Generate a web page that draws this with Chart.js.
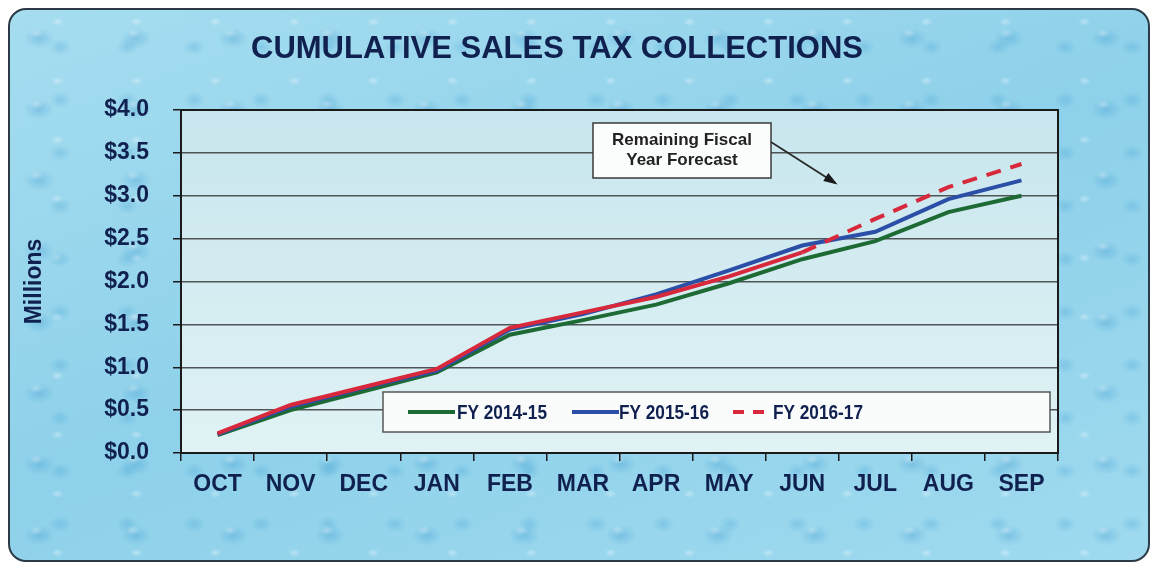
<!DOCTYPE html>
<html>
<head>
<meta charset="utf-8">
<script src="https://cdn.jsdelivr.net/npm/chart.js@4.4.1/dist/chart.umd.min.js"></script>
<style>
  html, body { margin: 0; padding: 0; background: #fff; }
  #wrap {
    position: relative;
    width: 1154px;
    height: 565px;
    overflow: hidden;
  }
  #frame {
    position: absolute;
    left: 8px; top: 8px; width: 1138px; height: 550px;
    border: 2px solid #2b3a44;
    border-radius: 18px;
    background:
      radial-gradient(ellipse 22px 15px at 30% 40%, rgba(40,140,200,0.28), transparent 70%),
      radial-gradient(ellipse 10px 7px at 27% 33%, rgba(255,255,255,0.4), transparent 70%),
      radial-gradient(ellipse 16px 12px at 75% 70%, rgba(50,150,205,0.25), transparent 70%),
      radial-gradient(ellipse 9px 6px at 60% 20%, rgba(255,255,255,0.35), transparent 70%),
      linear-gradient(160deg, #a6ddf0, #8ed1ea 50%, #9fdaef);
    background-size: 97px 71px, 97px 71px, 67px 53px, 79px 59px, 100% 100%;
  }
  canvas { position: absolute; left: 0; top: 0; }
</style>
</head>
<body>
<div id="wrap">
  <div id="frame"></div>
  <canvas id="chart" width="1154" height="565"></canvas>
</div>
<script>
const months = ['OCT', 'NOV', 'DEC', 'JAN', 'FEB', 'MAR', 'APR', 'MAY', 'JUN', 'JUL', 'AUG', 'SEP'];
const fy1415 = [0.21, 0.50, 0.72, 0.94, 1.38, 1.55, 1.73, 1.98, 2.26, 2.47, 2.81, 3.00];
const fy1516 = [0.22, 0.54, 0.76, 0.96, 1.44, 1.62, 1.85, 2.13, 2.42, 2.58, 2.96, 3.18];
const fy1617 = [0.23, 0.56, 0.77, 0.98, 1.46, 1.64, 1.82, 2.06, 2.34, 2.73, 3.10, 3.37];
const forecastStart = 8; // FY 2016-17 is a forecast from JUN on

const navy = '#10204f';
const titleText = 'CUMULATIVE SALES TAX COLLECTIONS';
const noteLines = ['Remaining Fiscal', 'Year Forecast'];

// plot background, border, title, note and legend box
const decor = {
    id: 'decor',
    beforeDraw(chart) {
        const { ctx, chartArea: a } = chart;
        ctx.save();
        const g = ctx.createLinearGradient(0, a.top, 0, a.bottom);
        g.addColorStop(0, '#c8e6ee');
        g.addColorStop(1, '#e0f2f4');
        ctx.fillStyle = g;
        ctx.fillRect(a.left, a.top, a.right - a.left, a.bottom - a.top);
        ctx.restore();
    },
    afterDatasetsDraw(chart) {
        const { ctx, chartArea: a, scales } = chart;
        ctx.save();
        // plot frame
        ctx.strokeStyle = '#1a1a1a';
        ctx.lineWidth = 2;
        ctx.strokeRect(a.left, a.top, a.right - a.left, a.bottom - a.top);

        // title
        ctx.fillStyle = navy;
        ctx.font = 'bold 31px "Liberation Sans", Arial, sans-serif';
        ctx.textAlign = 'center';
        ctx.textBaseline = 'middle';
        ctx.fillText(titleText, 557, 49);

        // forecast note
        const bx = 593, by = 123, bw = 178, bh = 55;
        ctx.fillStyle = '#fbfdfd';
        ctx.fillRect(bx, by, bw, bh);
        ctx.strokeStyle = '#3a3a3a';
        ctx.lineWidth = 1.5;
        ctx.strokeRect(bx, by, bw, bh);
        ctx.fillStyle = '#222';
        ctx.font = 'bold 17px "Liberation Sans", Arial, sans-serif';
        ctx.fillText(noteLines[0], bx + bw / 2, by + 17);
        ctx.fillText(noteLines[1], bx + bw / 2, by + 37);

        // arrow to the forecast part
        const tipX = scales.x.getPixelForValue(8) + 0.45 * (scales.x.getPixelForValue(9) - scales.x.getPixelForValue(8));
        const tipY = scales.y.getPixelForValue(3.15);
        const sx = bx + bw, sy = by + 19;
        ctx.strokeStyle = '#2a2a2a';
        ctx.lineWidth = 1.8;
        ctx.beginPath();
        ctx.moveTo(sx, sy);
        ctx.lineTo(tipX, tipY);
        ctx.stroke();
        const ang = Math.atan2(tipY - sy, tipX - sx);
        ctx.fillStyle = '#1a1a1a';
        ctx.beginPath();
        ctx.moveTo(tipX + 3 * Math.cos(ang), tipY + 3 * Math.sin(ang));
        ctx.lineTo(tipX - 12 * Math.cos(ang - 0.4), tipY - 12 * Math.sin(ang - 0.4));
        ctx.lineTo(tipX - 12 * Math.cos(ang + 0.4), tipY - 12 * Math.sin(ang + 0.4));
        ctx.closePath();
        ctx.fill();

        // legend
        const lx = 383, ly = 392, lw = 667, lh = 40;
        ctx.fillStyle = '#fafcfc';
        ctx.fillRect(lx, ly, lw, lh);
        ctx.strokeStyle = '#555';
        ctx.lineWidth = 1.5;
        ctx.strokeRect(lx, ly, lw, lh);
        const itemX = [408, 572, 733];
        const textX = [457, 619, 773];
        const my = ly + lh / 2;
        chart.data.datasets.forEach((ds, i) => {
            ctx.strokeStyle = ds.borderColor;
            ctx.lineWidth = 4;
            ctx.beginPath();
            if (ds.label === 'FY 2016-17') {
                ctx.moveTo(itemX[i], my); ctx.lineTo(itemX[i] + 11, my);
                ctx.moveTo(itemX[i] + 20, my); ctx.lineTo(itemX[i] + 31, my);
            } else {
                ctx.moveTo(itemX[i], my); ctx.lineTo(itemX[i] + 47, my);
            }
            ctx.stroke();
            // condensed legend text
            ctx.save();
            ctx.translate(textX[i], my + 1);
            ctx.scale(0.82, 1);
            ctx.fillStyle = navy;
            ctx.font = 'bold 21px "Liberation Sans", Arial, sans-serif';
            ctx.textAlign = 'left';
            ctx.fillText(ds.label, 0, 0);
            ctx.restore();
        });
        ctx.restore();
    }
};

const tickFont = { family: '"Liberation Sans", Arial, sans-serif', size: 23, weight: 'bold' };

new Chart(document.getElementById('chart'), {
    type: 'line',
    data: {
        labels: months,
        datasets: [
            { label: 'FY 2014-15', data: fy1415, borderColor: '#1d6a35', order: 2 },
            { label: 'FY 2015-16', data: fy1516, borderColor: '#2b4ea6', order: 1 },
            {
                label: 'FY 2016-17', data: fy1617, borderColor: '#d8283c', order: 0,
                segment: { borderDash: c => c.p0DataIndex >= forecastStart ? [15, 10] : undefined }
            }
        ]
    },
    options: {
        responsive: false,
        animation: false,
        layout: { padding: { left: 18, right: 96, top: 110, bottom: 0 } },
        elements: {
            line: { borderWidth: 4, tension: 0, fill: false },
            point: { radius: 0 }
        },
        plugins: {
            legend: { display: false },
            title: { display: false },
            tooltip: { enabled: false }
        },
        scales: {
            x: {
                offset: true,
                grid: { display: true, drawOnChartArea: false, offset: true, tickLength: 8, color: '#1a1a1a', lineWidth: 1.5 },
                border: { color: '#1a1a1a', width: 2 },
                ticks: { color: navy, font: tickFont, padding: 10, maxRotation: 0, autoSkip: false },
                afterFit: s => { s.height = 112; }
            },
            y: {
                min: 0,
                max: 4,
                ticks: { stepSize: 0.5, color: navy, font: tickFont, padding: 24, callback: v => '$' + v.toFixed(1) },
                grid: { color: '#4f5556', lineWidth: 1.5, tickLength: 8, tickColor: '#1a1a1a' },
                border: { color: '#1a1a1a', width: 2 },
                title: {
                    display: true, text: 'Millions', color: navy,
                    font: { family: '"Liberation Sans", Arial, sans-serif', size: 23, weight: 'bold' },
                    padding: { top: 3, bottom: 0 }
                },
                afterFit: s => { s.width = 163; }
            }
        }
    },
    plugins: [decor]
});
</script>
</body>
</html>
